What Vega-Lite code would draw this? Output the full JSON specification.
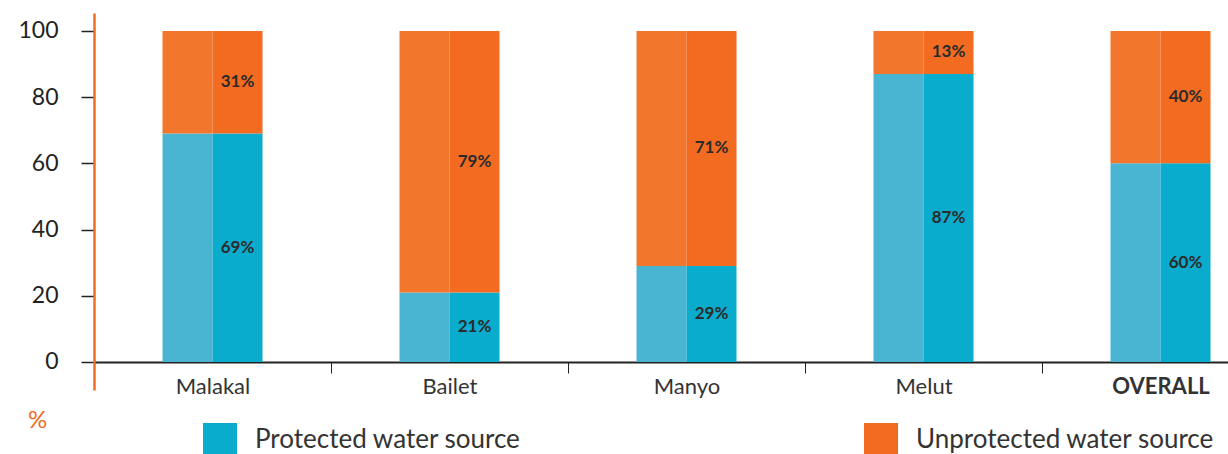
{
  "$schema": "https://vega.github.io/schema/vega-lite/v6.json",
  "width": 1185,
  "height": 377,
  "autosize": {"type": "none"},
  "padding": {"left": 94, "top": 13, "right": 0, "bottom": 64},
  "background": "white",
  "config": {"font": "Lato", "view": {"stroke": null}},
  "data": {
    "values": [
      {"city": "Malakal", "type": "Protected water source", "order": 1, "half": "L", "value": 69},
      {"city": "Malakal", "type": "Protected water source", "order": 1, "half": "R", "value": 69},
      {"city": "Malakal", "type": "Unprotected water source", "order": 2, "half": "L", "value": 31},
      {"city": "Malakal", "type": "Unprotected water source", "order": 2, "half": "R", "value": 31},
      {"city": "Bailet", "type": "Protected water source", "order": 1, "half": "L", "value": 21},
      {"city": "Bailet", "type": "Protected water source", "order": 1, "half": "R", "value": 21},
      {"city": "Bailet", "type": "Unprotected water source", "order": 2, "half": "L", "value": 79},
      {"city": "Bailet", "type": "Unprotected water source", "order": 2, "half": "R", "value": 79},
      {"city": "Manyo", "type": "Protected water source", "order": 1, "half": "L", "value": 29},
      {"city": "Manyo", "type": "Protected water source", "order": 1, "half": "R", "value": 29},
      {"city": "Manyo", "type": "Unprotected water source", "order": 2, "half": "L", "value": 71},
      {"city": "Manyo", "type": "Unprotected water source", "order": 2, "half": "R", "value": 71},
      {"city": "Melut", "type": "Protected water source", "order": 1, "half": "L", "value": 87},
      {"city": "Melut", "type": "Protected water source", "order": 1, "half": "R", "value": 87},
      {"city": "Melut", "type": "Unprotected water source", "order": 2, "half": "L", "value": 13},
      {"city": "Melut", "type": "Unprotected water source", "order": 2, "half": "R", "value": 13},
      {"city": "OVERALL", "type": "Protected water source", "order": 1, "half": "L", "value": 60},
      {"city": "OVERALL", "type": "Protected water source", "order": 1, "half": "R", "value": 60},
      {"city": "OVERALL", "type": "Unprotected water source", "order": 2, "half": "L", "value": 40},
      {"city": "OVERALL", "type": "Unprotected water source", "order": 2, "half": "R", "value": 40}
    ]
  },
  "transform": [
    {"calculate": "datum.half == 'L' ? datum.type + ' (light)' : datum.type", "as": "shade"},
    {"stack": "value", "groupby": ["city", "half"], "sort": [{"field": "order", "order": "ascending"}], "as": ["v0", "v1"]},
    {"calculate": "(datum.v0 + datum.v1) / 2", "as": "mid"},
    {"calculate": "datum.value + '%'", "as": "label"}
  ],
  "encoding": {
    "x": {
      "field": "city",
      "type": "nominal",
      "sort": null,
      "scale": {"paddingInner": 0.578, "paddingOuter": 0.289},
      "axis": {
        "title": null,
        "labelAngle": 0,
        "offset": -28,
        "domainColor": "#222222",
        "domainWidth": 2,
        "tickColor": "#222222",
        "tickSize": 11,
        "tickWidth": 1,
        "tickOffset": 118.5,
        "labelOffset": -118.5,
        "labelFontSize": 22,
        "labelColor": "#333333",
        "labelPadding": 3,
        "labelFontWeight": {"condition": {"test": "datum.value == 'OVERALL'", "value": "bold"}, "value": "normal"}
      }
    },
    "xOffset": {"field": "half", "type": "nominal", "scale": {"paddingInner": 0, "paddingOuter": 0}}
  },
  "layer": [
    {
      "mark": {"type": "bar"},
      "encoding": {
        "y": {
          "field": "v0",
          "type": "quantitative",
          "scale": {"domain": [-8.46, 105.4], "nice": false, "zero": false},
          "axis": {
            "values": [0, 20, 40, 60, 80, 100],
            "title": "%",
            "titleAngle": 0,
            "titleX": -57,
            "titleY": 407,
            "titleColor": "#f26b21",
            "titleFontSize": 24,
            "titleFontWeight": "normal",
            "titleAlign": "center",
            "titleBaseline": "middle",
            "domainColor": "#f26b21",
            "domainWidth": 2.5,
            "tickColor": "#222222",
            "tickSize": 13,
            "tickWidth": 1.5,
            "labelFontSize": 23,
            "labelColor": "#222222",
            "labelPadding": 23,
            "grid": false
          }
        },
        "y2": {"field": "v1"},
        "color": {
          "field": "shade",
          "type": "nominal",
          "scale": {
            "domain": ["Protected water source", "Unprotected water source", "Protected water source (light)", "Unprotected water source (light)"],
            "range": ["#0aaccd", "#f26b21", "#4ab5d3", "#f2772d"]
          },
          "legend": {
            "values": ["Protected water source", "Unprotected water source"],
            "orient": "none",
            "legendX": 109,
            "legendY": 410,
            "direction": "horizontal",
            "columns": 2,
            "title": null,
            "padding": 0,
            "symbolType": "square",
            "symbolSize": 1156,
            "symbolStrokeWidth": 0,
            "symbolOpacity": 1,
            "labelFontSize": 26,
            "labelColor": "#333333",
            "labelOffset": 18,
            "labelLimit": 400,
            "columnPadding": 343
          }
        }
      }
    },
    {
      "transform": [{"filter": "datum.half == 'R'"}],
      "mark": {"type": "text", "fontSize": 17, "fontWeight": "bold", "color": "#2b2b2b"},
      "encoding": {
        "y": {"field": "mid", "type": "quantitative"},
        "text": {"field": "label"}
      }
    }
  ]
}
